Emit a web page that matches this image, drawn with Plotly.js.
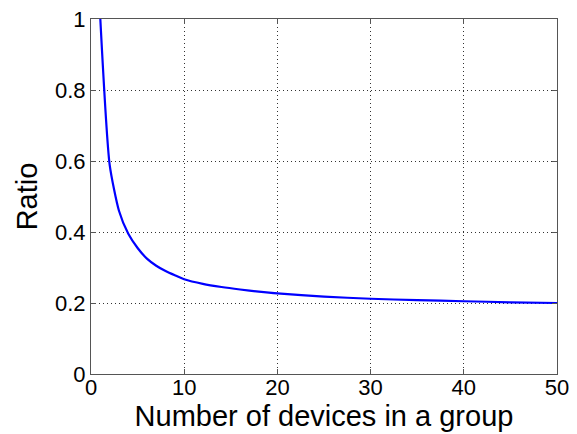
<!DOCTYPE html>
<html>
<head>
<meta charset="utf-8">
<script src="https://cdn.plot.ly/plotly-3.0.1.min.js"></script>
<style>html,body{margin:0;padding:0;background:#fff;}#chart{width:577px;height:434px;}</style>
</head>
<body>
<div id="chart"></div>
<script>
const devices = [1, 2, 3, 4, 5, 6, 7, 8, 9, 10, 12, 14, 16, 18, 20, 25, 30, 35, 40, 45, 50];
const ratio = [1.0, 0.59, 0.46, 0.395, 0.355, 0.325, 0.305, 0.29, 0.278, 0.267, 0.254, 0.245, 0.238, 0.232, 0.227, 0.218, 0.212, 0.208, 0.205, 0.202, 0.2];
const xTicks = [0, 10, 20, 30, 40, 50];
const yTicks = [0, 0.2, 0.4, 0.6, 0.8, 1];
const yTickLabels = ['0', '0.2', '0.4', '0.6', '0.8', '1'];

const axisCommon = {
  showline: true, linecolor: '#555', linewidth: 1, mirror: 'ticks',
  ticks: 'inside', ticklen: 5, tickcolor: '#555',
  showgrid: true, gridcolor: '#333', griddash: '1px,3px', gridwidth: 1,
  zeroline: false, automargin: false,
  tickfont: {family: 'Liberation Sans, Arial, sans-serif', size: 22, color: '#000'}
};

const layout = {
  width: 577, height: 434,
  margin: {l: 91, r: 20, t: 19, b: 60},
  paper_bgcolor: '#fff', plot_bgcolor: '#fff',
  showlegend: false,
  xaxis: Object.assign({}, axisCommon, {
    range: [0, 50], tickvals: xTicks, ticktext: xTicks.map(String),
    ticklabelstandoff: -6,
    title: {text: 'Number of devices in a group', standoff: 0,
      font: {family: 'Liberation Sans, Arial, sans-serif', size: 29, color: '#000'}}
  }),
  yaxis: Object.assign({}, axisCommon, {
    range: [0, 1], tickvals: yTicks, ticktext: yTickLabels,
    title: {text: 'Ratio', standoff: 8,
      font: {family: 'Liberation Sans, Arial, sans-serif', size: 29, color: '#000'}}
  })
};

Plotly.newPlot('chart', [{
  x: devices, y: ratio, type: 'scatter', mode: 'lines',
  line: {color: '#0000ff', width: 2.2, shape: 'spline', smoothing: 0.6}
}], layout, {displayModeBar: false, staticPlot: true});
</script>
</body>
</html>
